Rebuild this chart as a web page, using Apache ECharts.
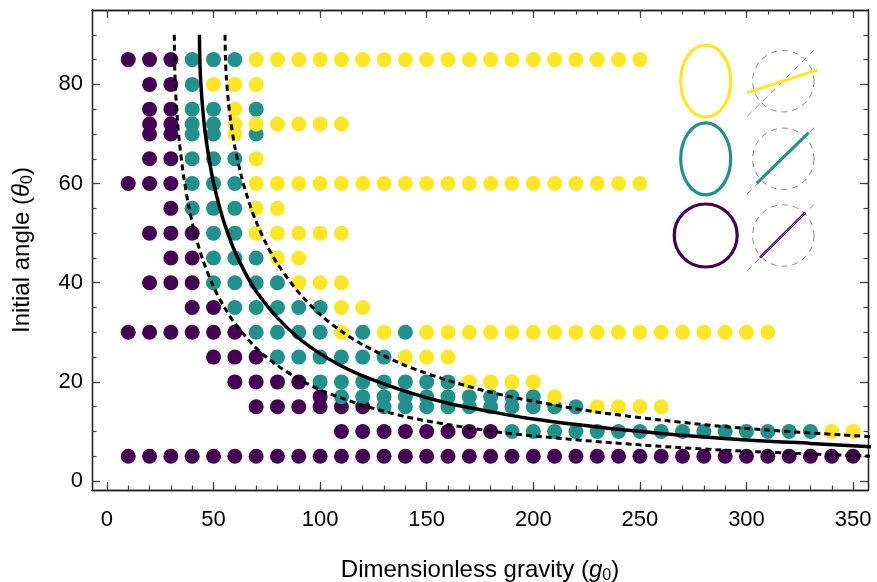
<!DOCTYPE html>
<html>
<head>
<meta charset="utf-8">
<script src="https://cdn.jsdelivr.net/npm/echarts@6/dist/echarts.min.js"></script>
<style>
  html, body { margin: 0; padding: 0; background: #fff; }
  #chart { width: 877px; height: 582px; }
</style>
</head>
<body>
<div id="chart"></div>
<script>
// g0 values of the simulated grid
var gGrid = [10, 20, 30, 40, 50, 60, 70, 80, 90, 100, 110, 120, 130, 140, 150, 160, 170, 180,
  190, 200, 210, 220, 230, 240, 250, 260, 270, 280, 290, 300, 310, 320, 330, 340, 350];

// theta0 of each row of runs
var thetaRows = [85, 80, 75, 72, 70, 65, 60, 55, 50, 45, 40, 35, 30, 25, 20, 17, 15, 10, 5];

// one string per row, one char per gGrid entry: P purple, T teal, Y yellow, . no run
var rowClasses = [
  'PPPTTT' + 'YYYYYYYYYYYYYYYYYYY',
  '.PPTYYY',
  '.PPTTYT',
  '.PPTTYYYYYY',
  '.PPTTYT',
  '.PPTTTY',
  'PPPTTT' + 'YYYYYYYYYYYYYYYYYYY',
  '..PTTTYY',
  '.PPPTTYYYYY',
  '..PPTTTYY',
  '.PPPTTTTYYY',
  '...PPTTTTTYY',
  'PPPPPPTTTTYTYT' + 'YYYYYYYYYYYYYYYYY',
  '....PPPTTTTTTYYY',
  '.....PPPPTTTTTTTYYYY',
  '.........PTTTTTTTTTTY',
  '......PPPPPPTTTTTTTTTTYYYY',
  '..........PPPPPPPP' + 'TTTTTTTTTTTTTTT' + 'YY',
  'PPPPPPPPPP' + 'PPPPPPPPPP' + 'PPPPPPPPPP' + 'PPPPP'
];

// boundary curves
var solidG = [43.4, 43.6, 44, 45, 46, 48, 50, 53, 56, 60, 65, 70, 80, 90, 100, 110, 120, 140, 160, 180, 200, 230, 260, 300, 330, 360];
var solidTheta = [90, 84.5, 80.5, 74.7, 70.6, 64.7, 60.2, 55.0, 50.8, 46.3, 41.9, 38.3, 32.9, 28.8, 25.7, 23.2, 21.2, 18.1, 15.7, 14.0, 12.5, 10.9, 9.6, 8.3, 7.6, 6.9];

var lowerG = [31.6, 31.8, 32.2, 33, 34, 36, 38, 41, 45, 50, 55, 60, 70, 80, 90, 100, 120, 140, 160, 180, 200, 250, 300, 360];
var lowerTheta = [90, 83.6, 78.9, 73.2, 68.3, 61.4, 56.3, 50.4, 44.6, 39.2, 35.1, 31.8, 26.8, 23.3, 20.6, 18.4, 15.3, 13.0, 11.4, 10.1, 9.1, 7.3, 6.0, 5.0];

var upperG = [55.4, 55.6, 56, 57, 58, 60, 63, 66, 70, 75, 80, 90, 100, 110, 120, 140, 160, 180, 200, 230, 260, 300, 360];
var upperTheta = [90, 85.1, 81.6, 76.4, 72.8, 67.4, 61.6, 57.1, 52.3, 47.6, 43.8, 38.0, 33.6, 30.2, 27.5, 23.3, 20.3, 17.9, 16.1, 13.9, 12.3, 10.6, 8.9];

// tick values
var xLabelTicks = [0, 50, 100, 150, 200, 250, 300, 350];
var xMinorTicks = [0, 10, 20, 30, 40, 50, 60, 70, 80, 90, 100, 110, 120, 130, 140, 150, 160, 170, 180,
  190, 200, 210, 220, 230, 240, 250, 260, 270, 280, 290, 300, 310, 320, 330, 340, 350];
var yLabelTicks = [0, 20, 40, 60, 80];
var yMinorTicks = [0, 5, 10, 15, 20, 25, 30, 35, 40, 45, 50, 55, 60, 65, 70, 75, 80, 85, 90];

var colors = {P: '#440154', T: '#21918c', Y: '#fde725'};
var points = {P: [], T: [], Y: []};
thetaRows.forEach(function (theta, r) {
  var s = rowClasses[r];
  for (var i = 0; i < s.length; i++) {
    var c = s.charAt(i);
    if (points[c]) points[c].push([gGrid[i], theta]);
  }
});

function pairs(xs, ys) {
  return xs.map(function (x, i) { return [x, ys[i]]; });
}

var FONT = '"Liberation Sans", Arial, sans-serif';

function axis(kind, pos, ticks, len, labels) {
  var a = {
    type: 'value',
    position: pos,
    min: kind === 'x' ? -7 : -1.8,
    max: kind === 'x' ? 357 : 95,
    axisLine: {show: true, onZero: false, lineStyle: {color: '#222', width: 1.3}},
    axisTick: {show: true, inside: true, length: len, customValues: ticks,
      lineStyle: {color: '#444', width: 1.2}},
    axisLabel: {show: false},
    splitLine: {show: false}
  };
  if (labels) {
    a.axisLabel = {show: true, customValues: labels, color: '#000', fontSize: 22,
      fontFamily: FONT, margin: kind === 'x' ? 19 : 9};
  }
  return a;
}

var titleRich = {
  i: {fontSize: 24, fontStyle: 'italic', fontFamily: FONT, color: '#000'},
  s: {fontSize: 16, fontFamily: FONT, color: '#000', padding: [12, 0, 0, 0]}
};

var xMain = axis('x', 'bottom', xLabelTicks, 8, xLabelTicks);
xMain.name = 'Dimensionless gravity ({i|g}{s|0})';
xMain.nameLocation = 'middle';
xMain.nameGap = 66;
xMain.nameTextStyle = {color: '#000', fontSize: 24, fontFamily: FONT, rich: titleRich};

var yMain = axis('y', 'left', yLabelTicks, 8, yLabelTicks);
yMain.name = 'Initial angle ({i|θ}{s|0})';
yMain.nameLocation = 'middle';
yMain.nameGap = 56;
yMain.nameTextStyle = {color: '#000', fontSize: 24, fontFamily: FONT, rich: titleRich};

var chart = echarts.init(document.getElementById('chart'));

var scatterSeries = ['P', 'T', 'Y'].map(function (k) {
  return {
    type: 'scatter',
    data: points[k],
    symbolSize: 15,
    itemStyle: {color: colors[k], opacity: 1},
    z: 2
  };
});

function curve(xs, ys, dashed) {
  return {
    type: 'line',
    data: pairs(xs, ys),
    showSymbol: false,
    symbol: 'none',
    smooth: 0.3,
    clip: true,
    lineStyle: {color: '#000', width: dashed ? 3 : 3.5, type: dashed ? [6, 4] : 'solid'},
    z: 5
  };
}

// inset: shape sketches at the upper right
var insetColors = ['#fde725', '#21918c', '#440154'];
var insetY = [81.2, 158.8, 235.5];
var graphics = [];
insetY.forEach(function (cy, i) {
  if (i < 2) {
    graphics.push({type: 'ellipse', shape: {cx: 705.7, cy: cy, rx: 25, ry: 36},
      style: {fill: 'none', stroke: insetColors[i], lineWidth: 3.2}, z: 10});
  } else {
    graphics.push({type: 'circle', shape: {cx: 705.7, cy: cy, r: 31.5},
      style: {fill: 'none', stroke: insetColors[i], lineWidth: 3.2}, z: 10});
  }
  graphics.push({type: 'circle', shape: {cx: 783.3, cy: cy, r: 30.7},
    style: {fill: 'none', stroke: '#8a8a8a', lineWidth: 1, lineDash: [6, 5]}, z: 10});
  graphics.push({type: 'line', shape: {x1: 747.3, y1: cy + 35, x2: 816, y2: cy - 33},
    style: {stroke: '#8a8a8a', lineWidth: 1, lineDash: [6, 5]}, z: 10});
});
graphics.push({type: 'line', shape: {x1: 747.3, y1: 92.7, x2: 817.3, y2: 70},
  style: {stroke: '#fde725', lineWidth: 3}, z: 11});
graphics.push({type: 'line', shape: {x1: 756.7, y1: 183.3, x2: 808.7, y2: 132.7},
  style: {stroke: '#21918c', lineWidth: 3}, z: 11});
graphics.push({type: 'line', shape: {x1: 760, y1: 257.7, x2: 805.3, y2: 212.7},
  style: {stroke: '#440154', lineWidth: 2.6}, z: 11});
graphics.push({type: 'line', shape: {x1: 760, y1: 257.7, x2: 805.3, y2: 212.7},
  style: {stroke: '#9a7fa8', lineWidth: 0.8}, z: 12});

chart.setOption({
  animation: false,
  backgroundColor: '#fff',
  grid: {left: 92, right: 9, top: 10, bottom: 92, outerBoundsMode: 'none', containLabel: false},
  xAxis: [
    xMain,
    axis('x', 'bottom', xMinorTicks, 4.5),
    axis('x', 'top', xLabelTicks, 8),
    axis('x', 'top', xMinorTicks, 4.5)
  ],
  yAxis: [
    yMain,
    axis('y', 'left', yMinorTicks, 4.5),
    axis('y', 'right', yLabelTicks, 8),
    axis('y', 'right', yMinorTicks, 4.5)
  ],
  series: scatterSeries.concat([
    curve(solidG, solidTheta, false),
    curve(lowerG, lowerTheta, true),
    curve(upperG, upperTheta, true)
  ]),
  graphic: graphics
});
</script>
</body>
</html>
